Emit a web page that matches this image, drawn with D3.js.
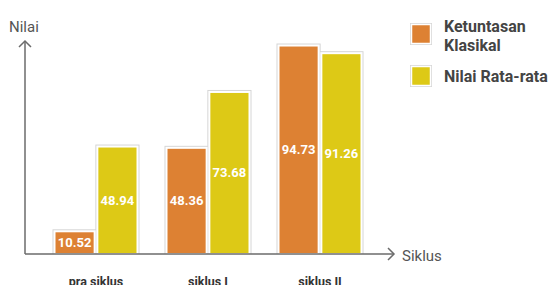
<!DOCTYPE html>
<html>
<head>
<meta charset="utf-8">
<script src="https://cdn.jsdelivr.net/npm/d3@7"></script>
<style>
  body { margin: 0; background: #fff; }
  svg { font-family: Roboto, "Noto Sans", sans-serif; }
</style>
</head>
<body>
<div id="chart"></div>
<script>
var categories = ["pra siklus", "siklus I", "siklus II"];
var seriesNames = ["Ketuntasan Klasikal", "Nilai Rata-rata"];
var ketuntasan = [10.52, 48.36, 94.73];
var rataRata = [48.94, 73.68, 91.26];
var colors = ["#DD8133", "#DDC916"];

var width = 558, height = 285;
var baseY = 254;

var svg = d3.select("#chart").append("svg")
    .attr("width", width)
    .attr("height", height);

var x0 = d3.scaleBand().domain(categories).range([40, 376])
    .paddingInner(0.25).paddingOuter(0.125);
var x1 = d3.scaleBand().domain(d3.range(seriesNames.length))
    .range([0, x0.bandwidth()]).paddingInner(0.04);
var y = d3.scaleLinear().domain([0, 100]).range([baseY, 33.4]);

var rows = [];
categories.forEach(function (c, i) {
    rows.push({ cat: c, s: 0, v: ketuntasan[i] });
    rows.push({ cat: c, s: 1, v: rataRata[i] });
});

// bars (light shadow + white border)
svg.selectAll(".shadow")
    .data(rows)
    .enter().append("rect")
    .attr("x", function (d) { return x0(d.cat) + x1(d.s) - 1.5; })
    .attr("y", function (d) { return y(d.v) - 1.5; })
    .attr("width", x1.bandwidth() + 3)
    .attr("height", function (d) { return baseY - y(d.v) + 1.5; })
    .attr("fill", "#d6d6d6");

svg.selectAll(".bar")
    .data(rows)
    .enter().append("rect")
    .attr("class", "bar")
    .attr("x", function (d) { return x0(d.cat) + x1(d.s) + 0.5; })
    .attr("y", function (d) { return y(d.v) + 0.5; })
    .attr("width", x1.bandwidth() - 1)
    .attr("height", function (d) { return baseY - y(d.v) - 0.5; })
    .attr("fill", function (d) { return colors[d.s]; })
    .attr("stroke", "#fff")
    .attr("stroke-width", 2);

svg.selectAll(".val")
    .data(rows)
    .enter().append("text")
    .attr("x", function (d) { return x0(d.cat) + x1(d.s) + x1.bandwidth() / 2; })
    .attr("y", function (d) { return (y(d.v) + baseY) / 2 + 4.5; })
    .attr("text-anchor", "middle")
    .attr("fill", "#fff")
    .style("font-size", "13px")
    .style("font-weight", "bold")
    .text(function (d) { return d.v.toFixed(2); });

// axes
var axisColor = "#6b6b6b";
svg.append("line")
    .attr("x1", 25).attr("y1", baseY).attr("x2", 394).attr("y2", baseY)
    .attr("stroke", axisColor).attr("stroke-width", 1.5);
svg.append("path")
    .attr("d", "M388,248 L394,254 L388,260")
    .attr("fill", "none").attr("stroke", axisColor).attr("stroke-width", 1.5);
svg.append("line")
    .attr("x1", 25).attr("y1", baseY).attr("x2", 25).attr("y2", 41)
    .attr("stroke", axisColor).attr("stroke-width", 1.5);
svg.append("path")
    .attr("d", "M19,47 L25,41 L31,47")
    .attr("fill", "none").attr("stroke", axisColor).attr("stroke-width", 1.5);

svg.append("text")
    .attr("x", 9).attr("y", 32)
    .attr("fill", "#555")
    .style("font-size", "15px")
    .text("Nilai");
svg.append("text")
    .attr("x", 402).attr("y", 261)
    .attr("fill", "#555")
    .style("font-size", "15px")
    .text("Siklus");

svg.selectAll(".cat")
    .data(categories)
    .enter().append("text")
    .attr("x", function (d) { return x0(d) + x0.bandwidth() / 2; })
    .attr("y", 286)
    .attr("text-anchor", "middle")
    .attr("fill", "#333")
    .style("font-size", "12.5px")
    .style("font-weight", "bold")
    .text(function (d) { return d; });

// legend
var legend = [
    { lines: ["Ketuntasan", "Klasikal"], y: 24, base: 32 },
    { lines: ["Nilai Rata-rata"], y: 66, base: 82 }
];
legend.forEach(function (l, i) {
    svg.append("rect")
        .attr("x", 410).attr("y", l.y - 1)
        .attr("width", 22).attr("height", 22)
        .attr("fill", "#d6d6d6");
    svg.append("rect")
        .attr("x", 411.5).attr("y", l.y + 0.5)
        .attr("width", 19).attr("height", 19)
        .attr("fill", colors[i])
        .attr("stroke", "#fff").attr("stroke-width", 1.5);
    var t = svg.append("text")
        .attr("fill", "#444")
        .style("font-size", "16px")
        .style("font-weight", "bold");
    l.lines.forEach(function (s, j) {
        t.append("tspan")
            .attr("x", 444)
            .attr("y", l.base + j * 18.5)
            .text(s);
    });
});
</script>
</body>
</html>
